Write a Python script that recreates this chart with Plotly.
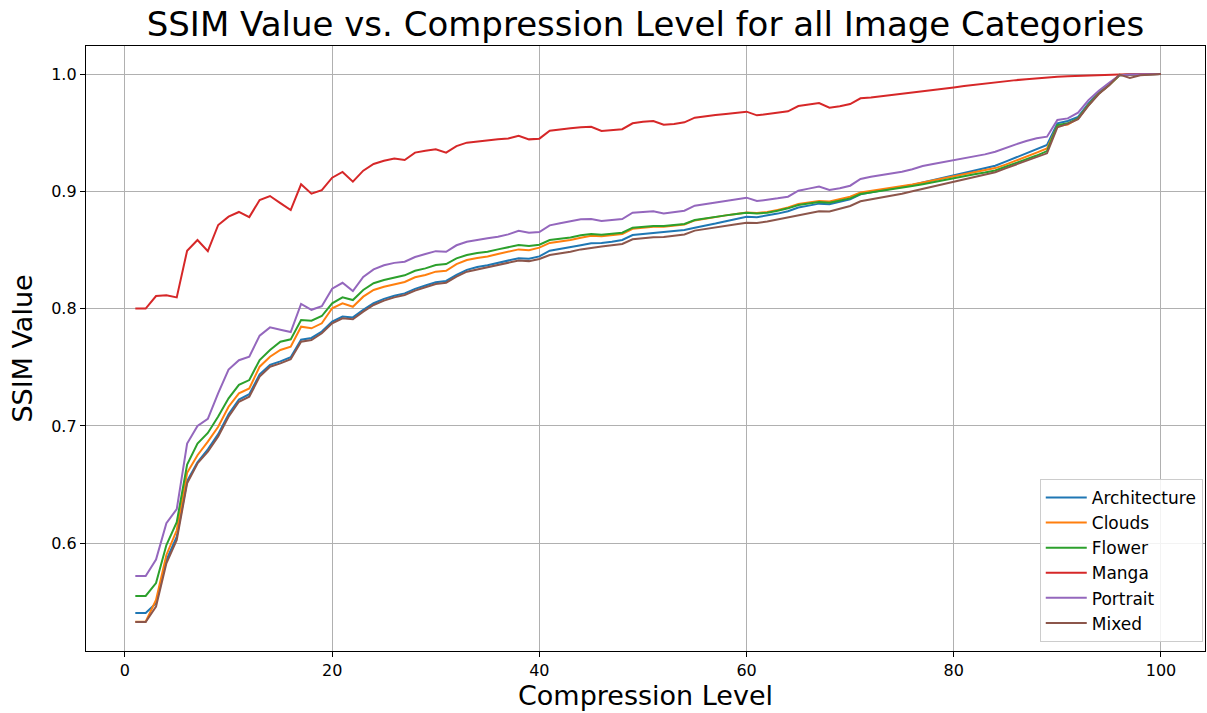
import plotly.graph_objects as go

levels = list(range(1, 101))

architecture = [
    0.5405, 0.5405, 0.5488, 0.5857, 0.6056, 0.653, 0.669, 0.680, 0.693, 0.710,
    0.7225, 0.727, 0.744, 0.752, 0.755, 0.7585, 0.7735, 0.775, 0.7805, 0.789,
    0.7932, 0.7925, 0.799, 0.8046, 0.8083, 0.811, 0.813, 0.8168, 0.8197, 0.8225,
    0.8236, 0.8287, 0.833, 0.8355, 0.837, 0.839, 0.841, 0.843, 0.8425, 0.8445,
    0.8494, 0.8508, 0.852, 0.854, 0.8557, 0.856, 0.857, 0.8585, 0.8627, 0.8636,
    0.8645, 0.8648, 0.866, 0.867, 0.869, 0.8705, 0.8725, 0.8745, 0.8765, 0.8784,
    0.878, 0.8792, 0.881, 0.883, 0.8862, 0.8878, 0.8895, 0.889, 0.891, 0.8932,
    0.8975, 0.899, 0.9005, 0.902, 0.9035, 0.9055, 0.9075, 0.9095, 0.9115, 0.9135,
    0.9155, 0.9175, 0.9195, 0.9218, 0.9253, 0.929, 0.9325, 0.936, 0.9395, 0.958,
    0.960, 0.9635, 0.975, 0.9845, 0.9912, 0.999, 0.9995, 0.9998, 0.9999, 1.0,
]

clouds = [
    0.533, 0.533, 0.5516, 0.590, 0.611, 0.660, 0.675, 0.6866, 0.6993, 0.7164,
    0.7278, 0.732, 0.7505, 0.759, 0.7647, 0.7675, 0.7846, 0.7832, 0.7875, 0.8003,
    0.8045, 0.8016, 0.8102, 0.8159, 0.8187, 0.821, 0.8227, 0.8267, 0.8286, 0.8315,
    0.8323, 0.838, 0.8414, 0.8432, 0.8445, 0.8465, 0.8485, 0.8505, 0.8498, 0.852,
    0.856, 0.8572, 0.8585, 0.8605, 0.8622, 0.8618, 0.8625, 0.8637, 0.868, 0.869,
    0.8697, 0.8698, 0.8708, 0.8718, 0.8752, 0.8768, 0.8783, 0.8795, 0.8807, 0.882,
    0.8816, 0.8823, 0.8842, 0.8862, 0.8892, 0.8905, 0.8918, 0.8913, 0.8932, 0.8954,
    0.899, 0.9003, 0.9016, 0.9029, 0.904, 0.9058, 0.9075, 0.9092, 0.911, 0.9128,
    0.9145, 0.9162, 0.9178, 0.9198, 0.9228, 0.926, 0.9295, 0.933, 0.9366, 0.9557,
    0.957, 0.962, 0.9736, 0.9835, 0.9906, 0.999, 0.9995, 0.9998, 0.9999, 1.0,
]

flower = [
    0.555, 0.555, 0.566, 0.5985, 0.618, 0.667, 0.685, 0.694, 0.708, 0.7235,
    0.735, 0.7391, 0.7562, 0.7647, 0.7718, 0.7738, 0.7903, 0.7897, 0.7937, 0.8045,
    0.8096, 0.8073, 0.8159, 0.8216, 0.8244, 0.8267, 0.8284, 0.8323, 0.8343, 0.8372,
    0.838, 0.8429, 0.8457, 0.8474, 0.8485, 0.8505, 0.8522, 0.8542, 0.8534, 0.8545,
    0.8585, 0.8596, 0.8607, 0.8625, 0.8636, 0.863, 0.8636, 0.8647, 0.869, 0.8698,
    0.8704, 0.8704, 0.8713, 0.8721, 0.8755, 0.877, 0.8784, 0.8795, 0.8806, 0.8818,
    0.8812, 0.8818, 0.8835, 0.8855, 0.8883, 0.8897, 0.8909, 0.8903, 0.892, 0.894,
    0.8977, 0.899, 0.9003, 0.9015, 0.9026, 0.9045, 0.906, 0.9078, 0.9095, 0.9112,
    0.9128, 0.9145, 0.916, 0.9178, 0.921, 0.924, 0.9272, 0.9305, 0.9343, 0.9565,
    0.958, 0.9622, 0.9736, 0.9835, 0.9906, 0.999, 0.9995, 0.9998, 0.9999, 1.0,
]

manga = [
    0.800, 0.800, 0.8107, 0.8113, 0.8096, 0.8494, 0.8585, 0.849, 0.8713, 0.8784,
    0.8824, 0.878, 0.8926, 0.896, 0.890, 0.884, 0.906, 0.898, 0.901, 0.9116,
    0.9165, 0.9082, 0.9176, 0.9233, 0.926, 0.928, 0.9267, 0.933, 0.9346, 0.9358,
    0.933, 0.9386, 0.9415, 0.9426, 0.9432, 0.9443, 0.945, 0.9474, 0.9443, 0.9449,
    0.9517, 0.953, 0.9537, 0.9546, 0.955, 0.9514, 0.952, 0.953, 0.958, 0.9594,
    0.960, 0.9568, 0.9574, 0.9588, 0.9628, 0.9642, 0.965, 0.9659, 0.967, 0.9679,
    0.9648, 0.9659, 0.967, 0.9682, 0.9727, 0.9741, 0.9752, 0.9713, 0.9725, 0.9744,
    0.9793, 0.980, 0.981, 0.982, 0.983, 0.984, 0.985, 0.9862, 0.9874, 0.9886,
    0.9897, 0.9908, 0.9918, 0.9928, 0.9938, 0.9948, 0.9956, 0.9964, 0.997, 0.9976,
    0.9981, 0.9985, 0.9988, 0.9991, 0.9994, 0.9996, 0.9998, 0.9999, 1.0, 1.0,
]

portrait = [
    0.572, 0.572, 0.586, 0.617, 0.629, 0.685, 0.700, 0.706, 0.728, 0.748,
    0.756, 0.759, 0.777, 0.784, 0.782, 0.780, 0.804, 0.799, 0.802, 0.817,
    0.822, 0.815, 0.827, 0.8335, 0.837, 0.839, 0.840, 0.844, 0.8465, 0.849,
    0.8485, 0.854, 0.857, 0.8588, 0.860, 0.8613, 0.8633, 0.8664, 0.8647, 0.8653,
    0.871, 0.8727, 0.8741, 0.8761, 0.8764, 0.8747, 0.8755, 0.8764, 0.8818, 0.8826,
    0.883, 0.8812, 0.8821, 0.8835, 0.8878, 0.8892, 0.8906, 0.892, 0.8932, 0.8946,
    0.8917, 0.8926, 0.894, 0.8954, 0.9005, 0.9023, 0.904, 0.9011, 0.9026, 0.9048,
    0.9105, 0.9125, 0.9139, 0.9159, 0.9167, 0.9188, 0.9216, 0.9233, 0.925, 0.9267,
    0.9281, 0.9295, 0.9315, 0.9338, 0.9366, 0.940, 0.9429, 0.9452, 0.9466, 0.9608,
    0.9622, 0.967, 0.9778, 0.9858, 0.9925, 0.999, 0.9995, 0.9998, 0.9999, 1.0,
]

mixed = [
    0.5328, 0.5328, 0.5459, 0.5829, 0.6027, 0.651, 0.668, 0.678, 0.691, 0.7078,
    0.7206, 0.7249, 0.742, 0.7505, 0.7533, 0.7568, 0.7718, 0.7732, 0.779, 0.7875,
    0.7917, 0.7909, 0.7974, 0.8031, 0.8068, 0.8096, 0.8116, 0.8153, 0.8182, 0.821,
    0.8221, 0.8272, 0.8315, 0.8335, 0.835, 0.837, 0.839, 0.841, 0.8405, 0.8423,
    0.8457, 0.847, 0.8485, 0.8505, 0.852, 0.853, 0.854, 0.8551, 0.8591, 0.860,
    0.8608, 0.861, 0.862, 0.8632, 0.8665, 0.868, 0.8695, 0.8708, 0.872, 0.8733,
    0.873, 0.8742, 0.876, 0.8775, 0.8798, 0.8815, 0.883, 0.8828, 0.885, 0.8875,
    0.8915, 0.893, 0.8945, 0.896, 0.898, 0.900, 0.902, 0.904, 0.906, 0.908,
    0.910, 0.912, 0.914, 0.9163, 0.9196, 0.9228, 0.926, 0.9292, 0.9324, 0.9546,
    0.9575, 0.9615, 0.973, 0.983, 0.9905, 0.9995, 0.9966, 0.999, 0.9995, 1.0,
]

series_names = ["Architecture", "Clouds", "Flower", "Manga", "Portrait", "Mixed"]
series_values = [architecture, clouds, flower, manga, portrait, mixed]
series_colors = ["#1f77b4", "#ff7f0e", "#2ca02c", "#d62728", "#9467bd", "#8c564b"]

x_ticks = [0, 20, 40, 60, 80, 100]
y_ticks = [0.6, 0.7, 0.8, 0.9, 1.0]

FONT = "DejaVu Sans"

fig = go.Figure()
for name, vals, col in zip(series_names, series_values, series_colors):
    fig.add_trace(go.Scatter(x=levels, y=vals, mode="lines", name=name,
                             line=dict(color=col, width=2)))

axis_common = dict(
    showline=True, linecolor="black", linewidth=1.3, mirror=True,
    ticks="outside", ticklen=5, tickwidth=1.2, tickcolor="black",
    showgrid=True, gridcolor="#b0b0b0", gridwidth=1, zeroline=False,
    tickfont=dict(family=FONT, size=16, color="black"),
)

fig.update_layout(
    width=1207, height=713,
    paper_bgcolor="white", plot_bgcolor="white",
    margin=dict(l=86, r=2, t=46, b=62),
    font=dict(family=FONT, color="black"),
    title=dict(text="SSIM Value vs. Compression Level for all Image Categories",
               x=0.5, xref="paper", xanchor="center",
               y=1 - 24 / 713, yref="container", yanchor="middle",
               font=dict(family=FONT, size=34, color="black")),
    xaxis=dict(range=[-3.76, 104.25], tickvals=x_ticks,
               title=dict(text="Compression Level", standoff=5,
                          font=dict(family=FONT, size=27, color="black")),
               **axis_common),
    yaxis=dict(range=[0.5081, 1.0239], tickvals=y_ticks, tickformat=".1f",
               title=dict(text="SSIM Value", standoff=10,
                          font=dict(family=FONT, size=27, color="black")),
               **axis_common),
    legend=dict(x=0.998, y=0.015, xanchor="right", yanchor="bottom",
                bgcolor="rgba(255,255,255,0.85)", bordercolor="#cccccc", borderwidth=1,
                font=dict(family=FONT, size=17, color="black"),
                itemwidth=41, tracegroupgap=0),
    showlegend=True,
)

fig.write_html("out.html")
